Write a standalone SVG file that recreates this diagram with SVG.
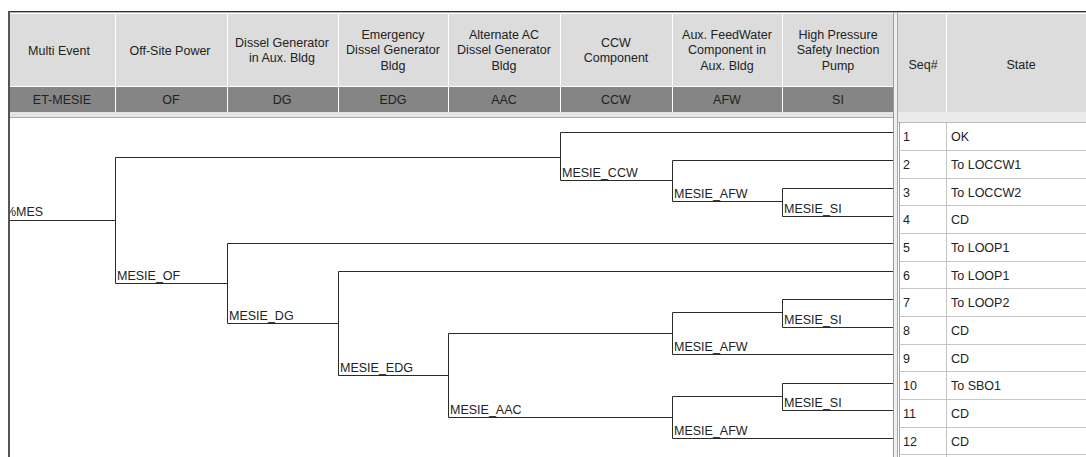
<svg xmlns="http://www.w3.org/2000/svg" width="1086" height="457" viewBox="0 0 1086 457">
<style>
text{font-family:"Liberation Sans",Arial,sans-serif;font-size:12.5px;fill:#222}
.h{text-anchor:middle}
.sep{stroke:#ffffff;stroke-width:1}
.tree path{fill:none;stroke:#2a2a2a;stroke-width:1}
.row{stroke:#c4c4c4;stroke-width:1}
.lbl{font-size:12.5px}
</style>
<defs>
<clipPath id="lp"><rect x="10" y="118" width="883" height="339"/></clipPath>
</defs>
<rect width="1086" height="457" fill="#ffffff"/>
<!-- frame -->
<line x1="8" y1="11.5" x2="1086" y2="11.5" stroke="#333" stroke-width="1"/>
<line x1="8" y1="12.5" x2="1086" y2="12.5" stroke="#b0b0b0" stroke-width="1"/>
<rect x="894" y="13" width="4" height="444" fill="#efefef"/>
<!-- left header -->
<g id="header-left">
<rect x="10" y="14" width="883" height="72" fill="#dcdcdc"/>
<rect x="10" y="87" width="883" height="25" fill="#858585"/>
<rect x="10" y="112" width="883" height="6" fill="#e4e4e4"/>
<line x1="10" y1="117.5" x2="893" y2="117.5" stroke="#a8a8a8"/>
<g class="sep">
<line x1="115.5" y1="14" x2="115.5" y2="112"/>
<line x1="227.5" y1="14" x2="227.5" y2="112"/>
<line x1="338.5" y1="14" x2="338.5" y2="112"/>
<line x1="448.5" y1="14" x2="448.5" y2="112"/>
<line x1="560.5" y1="14" x2="560.5" y2="112"/>
<line x1="672.5" y1="14" x2="672.5" y2="112"/>
<line x1="782.5" y1="14" x2="782.5" y2="112"/>
<line x1="10" y1="86.5" x2="893" y2="86.5"/>
</g>
<g id="col-ET"><text class="h" x="59" y="55">Multi Event</text><text class="h" x="62" y="104">ET-MESIE</text></g>
<g id="col-OF"><text class="h" x="170" y="55">Off-Site Power</text><text class="h" x="171" y="104">OF</text></g>
<g id="col-DG"><text class="h" x="282" y="47">Dissel Generator</text><text class="h" x="282" y="62">in Aux. Bldg</text><text class="h" x="282" y="104">DG</text></g>
<g id="col-EDG"><text class="h" x="393" y="39">Emergency</text><text class="h" x="393" y="54">Dissel Generator</text><text class="h" x="393" y="70">Bldg</text><text class="h" x="393" y="104">EDG</text></g>
<g id="col-AAC"><text class="h" x="504" y="39">Alternate AC</text><text class="h" x="504" y="54">Dissel Generator</text><text class="h" x="504" y="70">Bldg</text><text class="h" x="504" y="104">AAC</text></g>
<g id="col-CCW"><text class="h" x="616" y="47">CCW</text><text class="h" x="616" y="62">Component</text><text class="h" x="616" y="104">CCW</text></g>
<g id="col-AFW"><text class="h" x="727" y="39">Aux. FeedWater</text><text class="h" x="727" y="54">Component in</text><text class="h" x="727" y="70">Aux. Bldg</text><text class="h" x="727" y="104">AFW</text></g>
<g id="col-SI"><text class="h" x="838" y="39">High Pressure</text><text class="h" x="838" y="54">Safety Inection</text><text class="h" x="838" y="70">Pump</text><text class="h" x="838" y="104">SI</text></g>
</g>
<line x1="9" y1="11" x2="9" y2="457" stroke="#555" stroke-width="2"/>
<line x1="893.5" y1="13" x2="893.5" y2="457" stroke="#9a9a9a"/>
<line x1="897.5" y1="13" x2="897.5" y2="457" stroke="#a8a8a8"/>
<!-- right panel -->
<g id="header-right">
<rect x="898" y="14" width="188" height="98" fill="#dcdcdc"/>
<rect x="898" y="112" width="188" height="10" fill="#ececec"/>
<line x1="946.5" y1="14" x2="946.5" y2="112" class="sep"/>
<line x1="898" y1="122.5" x2="1086" y2="122.5" stroke="#b8b8b8"/>
<text class="h" x="923" y="69">Seq#</text>
<text class="h" x="1021" y="69">State</text>
</g>
<g id="rows">
<line x1="899.5" y1="122" x2="899.5" y2="457" stroke="#a0a0a0"/>
<line x1="946.5" y1="122" x2="946.5" y2="457" class="row"/>
<line class="row" x1="899" y1="150.5" x2="1086" y2="150.5"/>
<line class="row" x1="899" y1="178.5" x2="1086" y2="178.5"/>
<line class="row" x1="899" y1="205.5" x2="1086" y2="205.5"/>
<line class="row" x1="899" y1="233.5" x2="1086" y2="233.5"/>
<line class="row" x1="899" y1="261.5" x2="1086" y2="261.5"/>
<line class="row" x1="899" y1="288.5" x2="1086" y2="288.5"/>
<line class="row" x1="899" y1="316.5" x2="1086" y2="316.5"/>
<line class="row" x1="899" y1="344.5" x2="1086" y2="344.5"/>
<line class="row" x1="899" y1="371.5" x2="1086" y2="371.5"/>
<line class="row" x1="899" y1="399.5" x2="1086" y2="399.5"/>
<line class="row" x1="899" y1="427.5" x2="1086" y2="427.5"/>
<line class="row" x1="899" y1="454.5" x2="1086" y2="454.5"/>
<g id="seq1"><text x="903" y="141">1</text><text x="951" y="141">OK</text></g>
<g id="seq2"><text x="903" y="169">2</text><text x="951" y="169">To LOCCW1</text></g>
<g id="seq3"><text x="903" y="197">3</text><text x="951" y="197">To LOCCW2</text></g>
<g id="seq4"><text x="903" y="224">4</text><text x="951" y="224">CD</text></g>
<g id="seq5"><text x="903" y="252">5</text><text x="951" y="252">To LOOP1</text></g>
<g id="seq6"><text x="903" y="280">6</text><text x="951" y="280">To LOOP1</text></g>
<g id="seq7"><text x="903" y="307">7</text><text x="951" y="307">To LOOP2</text></g>
<g id="seq8"><text x="903" y="335">8</text><text x="951" y="335">CD</text></g>
<g id="seq9"><text x="903" y="363">9</text><text x="951" y="363">CD</text></g>
<g id="seq10"><text x="903" y="390">10</text><text x="951" y="390">To SBO1</text></g>
<g id="seq11"><text x="903" y="418">11</text><text x="951" y="418">CD</text></g>
<g id="seq12"><text x="903" y="446">12</text><text x="951" y="446">CD</text></g>
</g>
<!-- tree connectors -->
<g class="tree" id="connectors">
<path d="M10 220.5H115.5"/>
<path d="M115.5 157.5V283.5M115.5 157.5H560.5M115.5 283.5H227.5"/>
<path d="M560.5 132.5V180.5M560.5 132.5H893M560.5 180.5H672.5"/>
<path d="M672.5 160.5V201.5M672.5 160.5H893M672.5 201.5H782.5"/>
<path d="M782.5 188.5V216.5M782.5 188.5H893M782.5 216.5H893"/>
<path d="M227.5 243.5V323.5M227.5 243.5H893M227.5 323.5H338.5"/>
<path d="M338.5 271.5V375.5M338.5 271.5H893M338.5 375.5H448.5"/>
<path d="M448.5 333.5V417.5M448.5 333.5H672.5M448.5 417.5H672.5"/>
<path d="M672.5 312.5V354.5M672.5 312.5H782.5M672.5 354.5H893"/>
<path d="M782.5 299.5V327.5M782.5 299.5H893M782.5 327.5H893"/>
<path d="M672.5 396.5V438.5M672.5 396.5H782.5M672.5 438.5H893"/>
<path d="M782.5 383.5V410.5M782.5 383.5H893M782.5 410.5H893"/>
</g>
<!-- nodes -->
<g id="n-MES" clip-path="url(#lp)"><text x="5" y="216">%MES</text></g>
<g id="n-OF"><text x="117" y="280">MESIE_OF</text></g>
<g id="n-CCW"><text x="562" y="177">MESIE_CCW</text></g>
<g id="n-AFW1"><text x="674" y="198">MESIE_AFW</text></g>
<g id="n-SI1"><text x="784" y="213">MESIE_SI</text></g>
<g id="n-DG"><text x="229" y="320">MESIE_DG</text></g>
<g id="n-EDG"><text x="340" y="372">MESIE_EDG</text></g>
<g id="n-AAC"><text x="450" y="414">MESIE_AAC</text></g>
<g id="n-SI2"><text x="784" y="324">MESIE_SI</text></g>
<g id="n-AFW2"><text x="674" y="351">MESIE_AFW</text></g>
<g id="n-SI3"><text x="784" y="407">MESIE_SI</text></g>
<g id="n-AFW3"><text x="674" y="435">MESIE_AFW</text></g>
</svg>
